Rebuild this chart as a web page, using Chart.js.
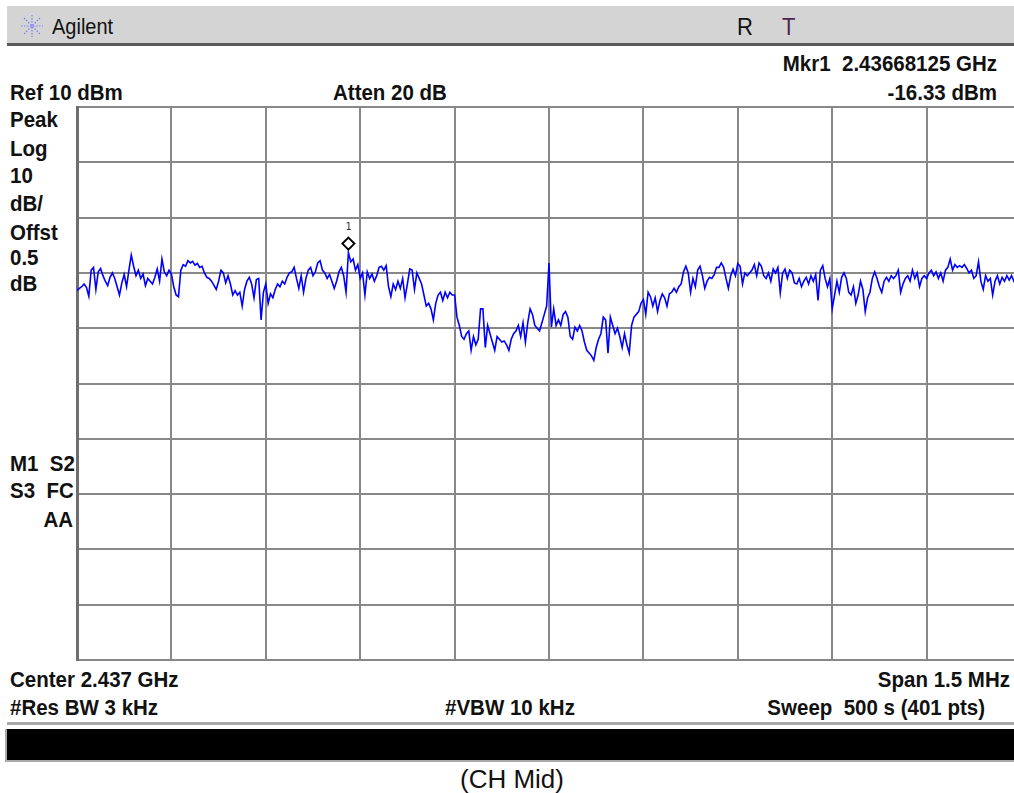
<!DOCTYPE html>
<html>
<head>
<meta charset="utf-8">
<script src="https://cdn.jsdelivr.net/npm/chart.js@4.4.1/dist/chart.umd.min.js"></script>
<style>
  html, body { margin: 0; padding: 0; }
  body {
    width: 1014px; height: 793px; overflow: hidden; position: relative;
    background: #fff; font-family: "Liberation Sans", Arial, sans-serif;
  }
  .txt {
    position: absolute; height: 24px; line-height: 24px; white-space: nowrap;
    font-weight: bold; font-size: 20.5px; color: #111;
    transform: scaleY(1.12); transform-origin: left center;
  }
  .r { text-align: right; transform-origin: right center; }
  #barra-topo { position: absolute; left: 7px; top: 6px; width: 1007px; height: 37px; background: #d4d4d4; }
  #linha-topo { position: absolute; left: 7px; top: 43px; width: 1007px; height: 3px; background: #5a5a5a; }
  #linha-base { position: absolute; left: 7px; top: 722px; width: 1007px; height: 3px; background: #a8a8a8; }
  #barra-preta { position: absolute; left: 5px; top: 729px; width: 1009px; height: 33px; background: #000; border-left: 2px solid #aaa; border-bottom: 2px solid #aaa; box-sizing: border-box; }
  #grafico { position: absolute; left: 72px; top: 102px; }
</style>
</head>
<body>
<div id="barra-topo"></div>
<div id="linha-topo"></div>
<svg style="position:absolute;left:20px;top:14px" width="24" height="24" viewBox="0 0 24 24">
  <g stroke="#7a7aff" stroke-width="1.2" stroke-dasharray="1.5 1.5">
    <line x1="12" y1="1" x2="12" y2="23"/><line x1="1" y1="12" x2="23" y2="12"/>
    <line x1="4" y1="4" x2="20" y2="20"/><line x1="20" y1="4" x2="4" y2="20"/>
  </g>
</svg>
<div class="txt" style="left:52px;top:14px;font-weight:normal;font-size:20px">Agilent</div>
<div class="txt" style="left:737px;top:15px;font-weight:normal;font-size:22px">R</div>
<div class="txt" style="left:782px;top:15px;font-weight:normal;font-size:22px;color:#4a2850">T</div>

<div class="txt r" style="right:17px;top:51px">Mkr1&nbsp; 2.43668125 GHz</div>
<div class="txt" style="left:10px;top:80px">Ref 10 dBm</div>
<div class="txt" style="left:333px;top:80px">Atten 20 dB</div>
<div class="txt r" style="right:17px;top:80px">-16.33 dBm</div>

<div class="txt" style="left:10px;top:107px">Peak</div>
<div class="txt" style="left:10px;top:136px">Log</div>
<div class="txt" style="left:10px;top:163px">10</div>
<div class="txt" style="left:10px;top:191px">dB/</div>
<div class="txt" style="left:10px;top:220px">Offst</div>
<div class="txt" style="left:10px;top:245px">0.5</div>
<div class="txt" style="left:10px;top:271px">dB</div>
<div class="txt" style="left:10px;top:451px">M1&nbsp; S2</div>
<div class="txt" style="left:10px;top:478px">S3&nbsp; FC</div>
<div class="txt r" style="right:941px;top:507px">AA</div>

<div class="txt" style="left:10px;top:667px">Center 2.437 GHz</div>
<div class="txt r" style="right:4px;top:667px">Span 1.5 MHz</div>
<div class="txt" style="left:10px;top:695px">#Res BW 3 kHz</div>
<div class="txt" style="left:445px;top:695px">#VBW 10 kHz</div>
<div class="txt r" style="right:29px;top:695px">Sweep&nbsp; 500 s (401 pts)</div>

<div id="linha-base"></div>
<div id="barra-preta"></div>
<div style="position:absolute;left:0;width:1024px;text-align:center;top:764px;height:30px;line-height:30px;font-size:26px;color:#111">(CH Mid)</div>

<canvas id="grafico" width="954" height="563"></canvas>

<script>
// Configuração do analisador
const centroKHz = 0;          // 2.437 GHz no centro
const spanKHz = 1500;         // Span 1.5 MHz
const refDbm = 10;            // Ref 10 dBm
const dbPorDiv = 10;
const divisoes = 10;

const nivelDbm = [
  -23.2, -22.8, -22.5, -22.0, -22.6, -24.2, -19.5, -19.0, -23.0, -19.8, -19.2, -20.5, -21.5, -22.3, -20.8, -20.0, -21.0, -22.5, -24.0, -21.8,
  -20.3, -22.5, -19.5, -16.8, -18.8, -20.5, -19.5, -21.0, -20.2, -22.3, -21.0, -21.5, -22.0, -20.8, -19.3, -21.5, -17.5, -19.8, -20.5, -19.5,
  -20.2, -22.5, -24.0, -24.3, -19.5, -18.5, -18.8, -17.8, -18.2, -17.9, -18.6, -18.3, -19.0, -18.8, -20.0, -20.8, -21.0, -21.5, -22.2, -23.0,
  -21.5, -19.5, -20.0, -21.8, -20.5, -22.0, -24.0, -23.2, -24.0, -23.5, -26.0, -23.0, -21.5, -20.8, -22.0, -24.5, -21.2, -21.0, -28.5, -23.5,
  -22.0, -25.5, -23.8, -24.5, -23.0, -22.0, -22.5, -21.5, -22.0, -20.8, -20.0, -19.8, -19.0, -21.0, -22.8, -20.5, -23.5, -21.0, -19.5, -19.0,
  -20.5, -19.8, -18.2, -17.8, -19.5, -20.0, -21.0, -20.3, -21.5, -22.8, -21.5, -19.8, -19.0, -20.5, -23.5, -16.33, -18.0, -17.5, -19.5, -18.5,
  -21.0, -20.0, -24.0, -19.8, -21.0, -20.2, -21.5, -20.5, -19.0, -18.8, -19.5, -18.7, -22.5, -24.3, -22.0, -23.0, -21.5, -22.8, -21.0, -24.5,
  -22.0, -19.3, -19.5, -23.0, -20.0, -21.0, -22.0, -24.0, -26.0, -25.5, -26.5, -28.5, -25.5, -24.0, -23.5, -25.0, -23.5, -24.5, -23.5, -24.0,
  -24.0, -28.0, -29.5, -31.5, -32.0, -31.0, -30.5, -34.0, -31.5, -33.0, -32.0, -26.5, -26.5, -33.5, -29.5, -31.0, -32.5, -34.0, -31.5, -32.0,
  -32.5, -32.3, -33.0, -34.0, -32.0, -31.0, -30.5, -29.5, -31.5, -29.0, -32.5, -29.0, -26.5, -27.5, -29.5, -30.0, -30.5, -29.0, -27.5, -26.0,
  -18.2, -29.8, -26.5, -29.5, -28.5, -29.5, -27.5, -27.0, -28.0, -31.5, -32.0, -29.8, -30.5, -29.5, -30.5, -32.5, -34.0, -34.5, -35.0, -35.8,
  -33.5, -32.0, -31.0, -28.0, -28.5, -34.5, -28.0, -29.5, -31.0, -30.0, -31.5, -33.5, -31.0, -33.0, -34.5, -29.5, -28.0, -27.5, -27.0, -25.5,
  -24.8, -27.5, -23.5, -24.3, -26.0, -24.5, -27.0, -25.0, -23.8, -24.5, -26.0, -23.8, -23.5, -22.8, -23.5, -22.5, -22.0, -19.8, -18.8, -20.0,
  -23.5, -21.0, -22.5, -19.5, -18.8, -20.5, -22.8, -21.5, -20.8, -21.0, -20.3, -19.0, -19.0, -18.2, -19.0, -21.0, -22.8, -20.5, -19.3, -20.5,
  -18.3, -18.8, -22.0, -20.0, -20.5, -20.0, -19.5, -18.5, -20.5, -18.2, -18.8, -20.5, -21.0, -20.0, -21.5, -19.3, -20.0, -19.0, -23.6, -20.0,
  -19.3, -21.0, -19.5, -20.0, -21.8, -22.0, -21.0, -22.5, -21.5, -20.8, -22.0, -20.5, -21.5, -20.3, -25.0, -19.5, -18.7, -21.0, -22.5, -21.0,
  -26.5, -24.0, -21.5, -23.5, -20.8, -20.0, -21.0, -23.5, -24.0, -22.5, -25.5, -24.0, -21.5, -23.0, -27.0, -24.5, -23.5, -21.0, -19.8, -21.0,
  -22.5, -23.5, -21.5, -20.8, -21.5, -20.5, -21.0, -20.5, -19.5, -23.5, -22.0, -21.0, -20.5, -21.5, -19.5, -21.0, -20.0, -22.5, -21.0, -20.5,
  -21.0, -20.0, -19.5, -20.5, -19.8, -21.0, -20.0, -21.5, -19.5, -19.0, -17.5, -19.5, -18.5, -19.0, -18.7, -19.0, -18.5, -19.2, -20.0, -19.5,
  -21.0, -20.5, -18.0, -21.5, -23.0, -20.5, -21.5, -21.0, -24.0, -21.5, -20.5, -22.0, -20.8, -21.5, -20.5, -21.3, -20.5, -21.5, -20.8, -20.5, -21.0,
];

// Marcador 1: 2.43668125 GHz, -16.33 dBm
const marcadorKHz = -318.75;
const marcadorDbm = -16.33;

const inicioKHz = centroKHz - spanKHz / 2;
const fimKHz = centroKHz + spanKHz / 2;
const passoKHz = spanKHz / (nivelDbm.length - 1);
const pontos = nivelDbm.map((v, i) => ({ x: inicioKHz + i * passoKHz, y: v }));

// Desenha o losango do marcador com o "1" em cima
const marcadorPlugin = {
  id: "marcador",
  afterDatasetsDraw(chart) {
    const { ctx, scales } = chart;
    const x = scales.x.getPixelForValue(marcadorKHz);
    const y = scales.y.getPixelForValue(marcadorDbm) - 9;
    ctx.save();
    ctx.strokeStyle = "#000";
    ctx.lineWidth = 2;
    ctx.beginPath();
    ctx.moveTo(x, y - 6);
    ctx.lineTo(x + 6, y);
    ctx.lineTo(x, y + 6);
    ctx.lineTo(x - 6, y);
    ctx.closePath();
    ctx.stroke();
    ctx.fillStyle = "#333";
    ctx.font = "10px 'DejaVu Sans Mono', monospace";
    ctx.textAlign = "center";
    ctx.textBaseline = "middle";
    ctx.fillText("1", x, y - 16);
    ctx.restore();
  },
};

const grade = { color: "#888888", lineWidth: 2, drawTicks: false };

new Chart(document.getElementById("grafico").getContext("2d"), {
  type: "line",
  plugins: [marcadorPlugin],
  data: {
    datasets: [
      {
        data: pontos,
        borderColor: "#0000ff",
        borderWidth: 1.6,
        pointRadius: 0,
        tension: 0,
        fill: false,
      },
    ],
  },
  options: {
    responsive: false,
    animation: false,
    layout: { padding: 5 },
    plugins: { legend: { display: false }, tooltip: { enabled: false } },
    scales: {
      x: {
        type: "linear",
        min: inicioKHz,
        max: fimKHz,
        ticks: { display: false, stepSize: spanKHz / divisoes },
        grid: grade,
        border: { color: "#888888", width: 2 },
      },
      y: {
        min: refDbm - dbPorDiv * divisoes,
        max: refDbm,
        ticks: { display: false, stepSize: dbPorDiv },
        grid: grade,
        border: { color: "#6e6e6e", width: 3 },
      },
    },
  },
});
</script>
</body>
</html>
